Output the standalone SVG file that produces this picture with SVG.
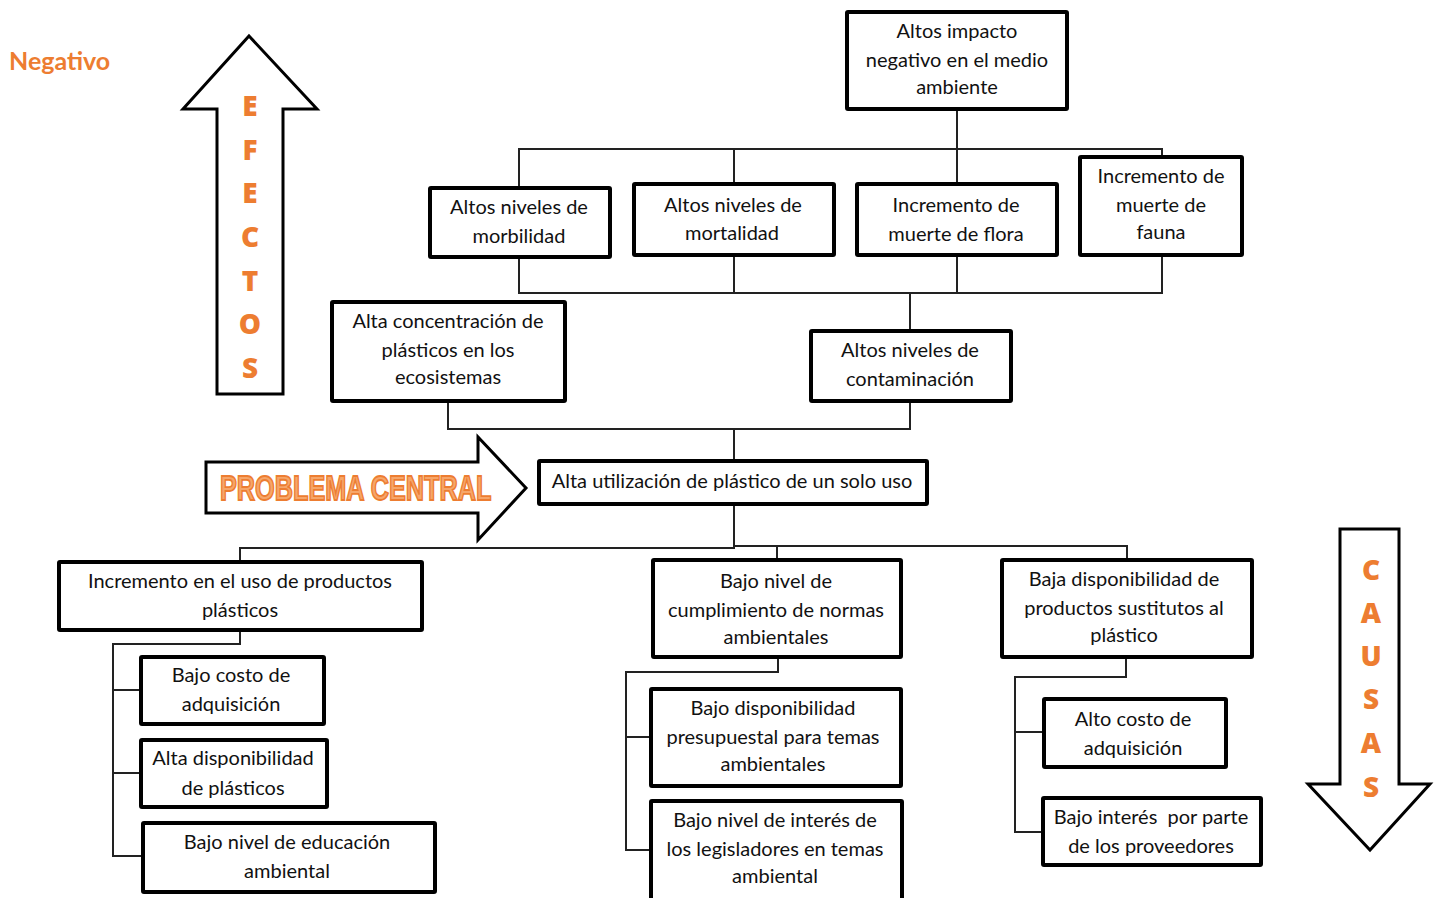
<svg xmlns="http://www.w3.org/2000/svg" width="1440" height="898" viewBox="0 0 1440 898">
  <style>
    .box { fill: #ffffff; stroke: #000000; stroke-width: 4; }
    .t { font-family: Lato, "Liberation Sans", sans-serif; font-size: 20px; fill: #111111; text-anchor: middle; }
    .conn { fill: none; stroke: #222222; stroke-width: 2; }
    .arrow { fill: #ffffff; stroke: #000000; stroke-width: 3; stroke-linejoin: miter; }
    .big { font-family: "Open Sans", "Liberation Sans", sans-serif; font-weight: 800; font-size: 28px; fill: #ED7D31; text-anchor: middle; }
  </style>
  <rect width="1440" height="898" fill="#ffffff"/>

  <!-- side labels and direction arrows -->
  <text x="9" y="70" font-family="Lato, 'Liberation Sans', sans-serif" font-weight="700" font-size="25" fill="#ED7D31">Negativo</text>

  <g id="arrow-efectos">
    <polygon class="arrow" points="249,36 317,109 283,109 283,394 217,394 217,109 183,109"/>
    <text class="big" x="250" y="116">E</text>
    <text class="big" x="250" y="160">F</text>
    <text class="big" x="250" y="203">E</text>
    <text class="big" x="250" y="247">C</text>
    <text class="big" x="250" y="291">T</text>
    <text class="big" x="250" y="334">O</text>
    <text class="big" x="250" y="378">S</text>
  </g>

  <g id="arrow-problema">
    <polygon class="arrow" points="206,462 478,462 478,437 526,488 478,540 478,513 206,513"/>
    <text transform="translate(220,500) scale(0.722,1)" x="0" y="0" font-family="'Liberation Sans', sans-serif" font-weight="700" font-size="35" fill="#F6A66A" stroke="#ED7D31" stroke-width="1.8">PROBLEMA CENTRAL</text>
  </g>

  <g id="arrow-causas">
    <polygon class="arrow" points="1340,529 1399,529 1399,784 1430,784 1370,850 1308,784 1340,784"/>
    <text class="big" x="1371" y="580">C</text>
    <text class="big" x="1371" y="623">A</text>
    <text class="big" x="1371" y="666">U</text>
    <text class="big" x="1371" y="709">S</text>
    <text class="big" x="1371" y="753">A</text>
    <text class="big" x="1371" y="797">S</text>
  </g>

  <!-- connectors -->
  <g id="connectors">
    <!-- top effect down to the four effect boxes -->
    <polyline class="conn" points="957,110 957,183"/>
    <polyline class="conn" points="519,187 519,149 1162,149 1162,156"/>
    <polyline class="conn" points="734,149 734,183"/>
    <!-- four effect boxes joined below -->
    <polyline class="conn" points="519,258 519,293 1162,293 1162,256"/>
    <polyline class="conn" points="734,256 734,293"/>
    <polyline class="conn" points="957,256 957,293"/>
    <polyline class="conn" points="910,293 910,330"/>
    <!-- direct effects down to the central problem -->
    <polyline class="conn" points="448,402 448,429 910,429 910,402"/>
    <polyline class="conn" points="734,429 734,460"/>
    <!-- central problem down to the three causes -->
    <polyline class="conn" points="734,505 734,548 240,548 240,561"/>
    <polyline class="conn" points="734,546 1127,546 1127,559"/>
    <polyline class="conn" points="777,546 777,559"/>
    <!-- left cause branch -->
    <polyline class="conn" points="240,631 240,644 113,644 113,856 142,856"/>
    <polyline class="conn" points="113,690 140,690"/>
    <polyline class="conn" points="113,773 140,773"/>
    <!-- middle cause branch -->
    <polyline class="conn" points="778,658 778,672 626,672 626,850 650,850"/>
    <polyline class="conn" points="626,737 650,737"/>
    <!-- right cause branch -->
    <polyline class="conn" points="1126,658 1126,677 1015,677 1015,832 1042,832"/>
    <polyline class="conn" points="1015,732 1043,732"/>
  </g>

  <!-- effects -->
  <g id="efecto-impacto">
    <rect class="box" x="847" y="12" width="220" height="97" rx="1"/>
    <text class="t" x="957" y="38">Altos impacto</text>
    <text class="t" x="957" y="67">negativo en el medio</text>
    <text class="t" x="957" y="94">ambiente</text>
  </g>
  <g id="efecto-morbilidad">
    <rect class="box" x="430" y="188" width="180" height="69" rx="1"/>
    <text class="t" x="519" y="214">Altos niveles de</text>
    <text class="t" x="519" y="243">morbilidad</text>
  </g>
  <g id="efecto-mortalidad">
    <rect class="box" x="634" y="184" width="200" height="71" rx="1"/>
    <text class="t" x="733" y="212">Altos niveles de</text>
    <text class="t" x="732" y="240">mortalidad</text>
  </g>
  <g id="efecto-flora">
    <rect class="box" x="857" y="184" width="200" height="71" rx="1"/>
    <text class="t" x="956" y="212">Incremento de</text>
    <text class="t" x="956" y="241">muerte de flora</text>
  </g>
  <g id="efecto-fauna">
    <rect class="box" x="1080" y="157" width="162" height="98" rx="1"/>
    <text class="t" x="1161" y="183">Incremento de</text>
    <text class="t" x="1161" y="212">muerte de</text>
    <text class="t" x="1161" y="239">fauna</text>
  </g>
  <g id="efecto-concentracion">
    <rect class="box" x="332" y="302" width="233" height="99" rx="1"/>
    <text class="t" x="448" y="328">Alta concentración de</text>
    <text class="t" x="448" y="357">plásticos en los</text>
    <text class="t" x="448" y="384">ecosistemas</text>
  </g>
  <g id="efecto-contaminacion">
    <rect class="box" x="811" y="331" width="200" height="70" rx="1"/>
    <text class="t" x="910" y="357">Altos niveles de</text>
    <text class="t" x="910" y="386">contaminación</text>
  </g>

  <!-- central problem -->
  <g id="problema-central">
    <rect class="box" x="539" y="461" width="388" height="43" rx="1"/>
    <text class="t" x="732" y="488">Alta utilización de plástico de un solo uso</text>
  </g>

  <!-- causes -->
  <g id="causa-productos">
    <rect class="box" x="59" y="562" width="363" height="68" rx="1"/>
    <text class="t" x="240" y="588">Incremento en el uso de productos</text>
    <text class="t" x="240" y="617">plásticos</text>
  </g>
  <g id="causa-normas">
    <rect class="box" x="653" y="560" width="248" height="97" rx="1"/>
    <text class="t" x="776" y="588">Bajo nivel de</text>
    <text class="t" x="776" y="617">cumplimiento de normas</text>
    <text class="t" x="776" y="644">ambientales</text>
  </g>
  <g id="causa-sustitutos">
    <rect class="box" x="1002" y="560" width="250" height="97" rx="1"/>
    <text class="t" x="1124" y="586">Baja disponibilidad de</text>
    <text class="t" x="1124" y="615">productos sustitutos al</text>
    <text class="t" x="1124" y="642">plástico</text>
  </g>

  <!-- sub-causes -->
  <g id="subcausa-costo">
    <rect class="box" x="141" y="657" width="183" height="67" rx="1"/>
    <text class="t" x="231" y="682">Bajo costo de</text>
    <text class="t" x="231" y="711">adquisición</text>
  </g>
  <g id="subcausa-disponibilidad">
    <rect class="box" x="141" y="740" width="186" height="67" rx="1"/>
    <text class="t" x="233" y="765">Alta disponibilidad</text>
    <text class="t" x="233" y="795">de plásticos</text>
  </g>
  <g id="subcausa-educacion">
    <rect class="box" x="143" y="823" width="292" height="69" rx="1"/>
    <text class="t" x="287" y="849">Bajo nivel de educación</text>
    <text class="t" x="287" y="878">ambiental</text>
  </g>
  <g id="subcausa-presupuesto">
    <rect class="box" x="651" y="689" width="250" height="97" rx="1"/>
    <text class="t" x="773" y="715">Bajo disponibilidad</text>
    <text class="t" x="773" y="744">presupuestal para temas</text>
    <text class="t" x="773" y="771">ambientales</text>
  </g>
  <g id="subcausa-legisladores">
    <rect class="box" x="651" y="801" width="251" height="100" rx="1"/>
    <text class="t" x="775" y="827">Bajo nivel de interés de</text>
    <text class="t" x="775" y="856">los legisladores en temas</text>
    <text class="t" x="775" y="883">ambiental</text>
  </g>
  <g id="subcausa-alto-costo">
    <rect class="box" x="1044" y="699" width="182" height="68" rx="1"/>
    <text class="t" x="1133" y="726">Alto costo de</text>
    <text class="t" x="1133" y="755">adquisición</text>
  </g>
  <g id="subcausa-proveedores">
    <rect class="box" x="1043" y="798" width="218" height="67" rx="1"/>
    <text class="t" x="1151" y="824">Bajo interés&#160; por parte</text>
    <text class="t" x="1151" y="853">de los proveedores</text>
  </g>
</svg>
